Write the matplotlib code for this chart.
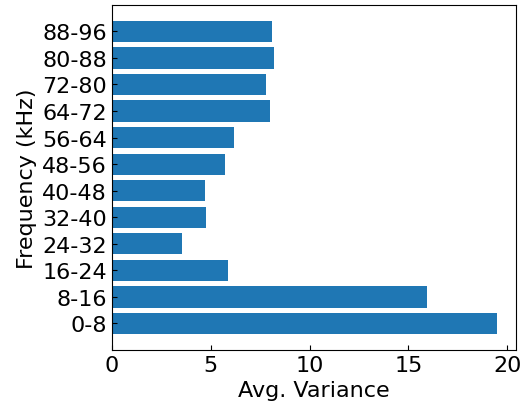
import matplotlib
matplotlib.use('Agg')
import matplotlib.pyplot as plt

# bandas de frecuencia y varianza media
bands = ['0-8', '8-16', '16-24', '24-32', '32-40', '40-48',
         '48-56', '56-64', '64-72', '72-80', '80-88', '88-96']
variance = [19.46, 15.91, 5.88, 3.54, 4.78, 4.73,
            5.71, 6.18, 7.99, 7.78, 8.22, 8.10]

fig = plt.figure(figsize=(5.23, 4.06), dpi=100)
ax = fig.add_axes([0.2136, 0.136, 0.773, 0.849])

ax.barh(range(len(bands)), variance, color='#1f77b4')
ax.set_yticks(range(len(bands)))
ax.set_yticklabels(bands)
ax.set_xticks([0, 5, 10, 15, 20])
ax.tick_params(direction='in', labelsize=16)
ax.set_xlabel('Avg. Variance', fontsize=16)
ax.set_ylabel('Frequency (kHz)', fontsize=16)

fig.savefig('out.png', dpi=100)
